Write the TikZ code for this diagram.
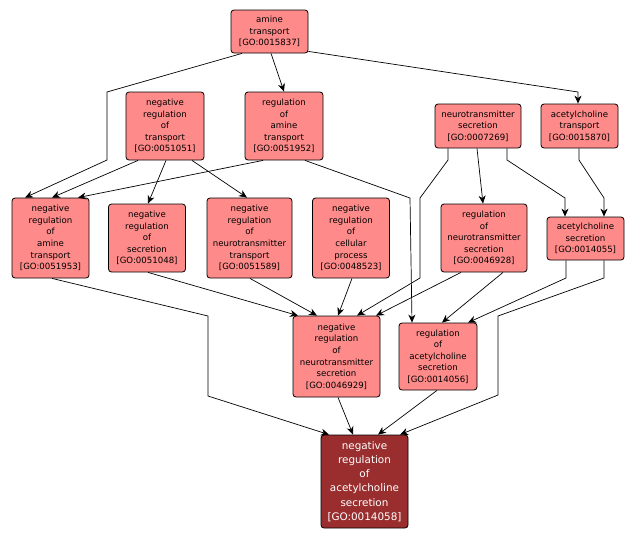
\documentclass[tikz,border=0pt]{standalone}
\usepackage{fontspec}
\usepackage{tikz}
\usetikzlibrary{arrows.meta, positioning}
\newfontfamily\gofont{DejaVu Sans}
\definecolor{termpink}{HTML}{FF8A8A}
\definecolor{termred}{HTML}{9A2E2E}

\begin{document}
\begin{tikzpicture}[x=1pt, y=-1pt,
  term/.style={rectangle, rounded corners=3pt, draw=black, line width=0.8pt, fill=termpink,
    align=center, inner sep=0pt, font=\gofont\fontsize{8.6}{11.6}\selectfont},
  hit/.style={term, fill=termred, text=white, font=\gofont\fontsize{10.4}{14.2}\selectfont},
  link/.style={-{Stealth[length=8pt, width=7pt, inset=2.5pt]}, line width=0.7pt}]
\useasboundingbox (0,0) rectangle (637,539);
% terms
\node[term, minimum width=77pt, minimum height=43pt] (amtr) at (269.5,31.5) {amine\\transport\\{[GO:0015837]}};
\node[term, minimum width=78pt, minimum height=68pt] (negtr) at (165,126) {negative\\regulation\\of\\transport\\{[GO:0051051]}};
\node[term, minimum width=78pt, minimum height=68pt] (regamtr) at (284,126) {regulation\\of\\amine\\transport\\{[GO:0051952]}};
\node[term, minimum width=86pt, minimum height=44pt] (ntsec) at (478,126) {neurotransmitter\\secretion\\{[GO:0007269]}};
\node[term, minimum width=77pt, minimum height=44pt] (achtr) at (579.5,126) {acetylcholine\\transport\\{[GO:0015870]}};
\node[term, minimum width=77pt, minimum height=80pt] (negamtr) at (50.5,238) {negative\\regulation\\of\\amine\\transport\\{[GO:0051953]}};
\node[term, minimum width=77pt, minimum height=68pt] (negsec) at (147,238) {negative\\regulation\\of\\secretion\\{[GO:0051048]}};
\node[term, minimum width=85pt, minimum height=80pt] (negnttr) at (249.5,238) {negative\\regulation\\of\\neurotransmitter\\transport\\{[GO:0051589]}};
\node[term, minimum width=77pt, minimum height=80pt] (negcell) at (351,238) {negative\\regulation\\of\\cellular\\process\\{[GO:0048523]}};
\node[term, minimum width=86pt, minimum height=68pt] (regntsec) at (484,238) {regulation\\of\\neurotransmitter\\secretion\\{[GO:0046928]}};
\node[term, minimum width=77pt, minimum height=43pt] (achsec) at (585.5,238.5) {acetylcholine\\secretion\\{[GO:0014055]}};
\node[term, minimum width=87pt, minimum height=81pt] (negntsec) at (336.5,356.5) {negative\\regulation\\of\\neurotransmitter\\secretion\\{[GO:0046929]}};
\node[term, minimum width=78pt, minimum height=67pt] (regachsec) at (438,356.5) {regulation\\of\\acetylcholine\\secretion\\{[GO:0014056]}};
\node[hit, minimum width=87pt, minimum height=93pt] (negachsec) at (364.5,481.5) {negative\\regulation\\of\\acetylcholine\\secretion\\{[GO:0014058]}};
% links
\draw[link] ([xshift=1.5pt]amtr.south) -- (regamtr.north);
\draw[link] ([xshift=-27.5pt]amtr.south) -- (107,92) -- (107,160) -- ([xshift=-25.5pt]negamtr.north);
\draw[link] ([yshift=2pt]amtr.south east) -- (578,92) -- ([xshift=-1.5pt]achtr.north);
\draw[link] ([xshift=-27pt]negtr.south) -- ([xshift=1.5pt]negamtr.north);
\draw[link] ([xshift=-21pt]regamtr.south) -- ([xshift=27.5pt]negamtr.north);
\draw[link] ([xshift=1pt]negtr.south) -- ([xshift=1pt]negsec.north);
\draw[link] ([xshift=27pt]negtr.south) -- ([xshift=-2.5pt]negnttr.north);
\draw[link] ([xshift=21pt]regamtr.south) -- (410,198) -- ([xshift=-26pt]regachsec.north);
\draw[link] ([xshift=-30pt]ntsec.south) -- (448,160) -- (420,198) -- (420,278) -- ([xshift=20.5pt]negntsec.north);
\draw[link] ([xshift=-1pt]ntsec.south) -- ([xshift=-1pt]regntsec.north);
\draw[link] ([xshift=29pt]ntsec.south) -- (507,160) -- (565,198) -- ([xshift=-20.5pt]achsec.north);
\draw[link] ([xshift=-0.5pt]achtr.south) -- (579,160) -- (604,198) -- ([xshift=18.5pt]achsec.north);
\draw[link] ([xshift=1.5pt]negamtr.south) -- (208,316) -- (208,396) -- ([xshift=-35.5pt]negachsec.north);
\draw[link] ([xshift=1pt]negsec.south) -- ([xshift=-38.5pt]negntsec.north);
\draw[link] ([xshift=0.5pt]negnttr.south) -- ([xshift=-19.5pt]negntsec.north);
\draw[link] ([xshift=1pt]negcell.south) -- ([xshift=1.5pt]negntsec.north);
\draw[link] ([xshift=-23pt]regntsec.south) -- ([xshift=39.5pt]negntsec.north);
\draw[link] ([xshift=19pt]regntsec.south) -- ([xshift=4pt]regachsec.north);
\draw[link] ([xshift=-19.5pt]achsec.south) -- (566,278) -- ([xshift=30pt]regachsec.north);
\draw[link] ([xshift=18.5pt]achsec.south) -- (604,278) -- (498,316) -- (498,395) -- ([xshift=35.5pt]negachsec.north);
\draw[link] ([xshift=1.5pt]negntsec.south) -- ([xshift=-11.5pt]negachsec.north);
\draw[link] ([xshift=-1pt]regachsec.south) -- ([xshift=13.5pt]negachsec.north);
\end{tikzpicture}
\end{document}
